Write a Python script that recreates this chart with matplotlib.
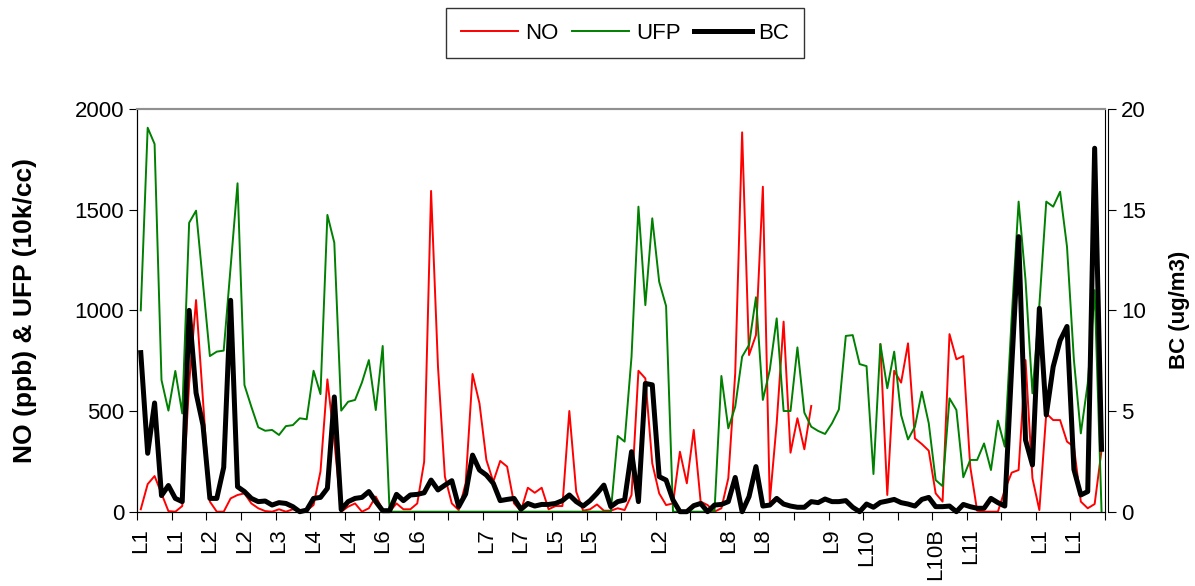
import numpy as np
import matplotlib
matplotlib.use("Agg")
import matplotlib.pyplot as plt

plt.rcParams['font.family'] = ['Liberation Sans', 'DejaVu Sans']

# category labels, one every 5 samples
site_labels = ["L1", "L1", "L2", "L2", "L3", "L4", "L4", "L6", "L6", "",
               "L7", "L7", "L5", "L5", "", "L2", "", "L8", "L8", "",
               "L9", "L10", "", "L10B", "L11", "", "L1", "L1"]

nan = np.nan
no_ppb = [12, 137, 177, 90, 3, 0, 28, 637, 1051, 555,
          50, 0, 0, 66, 83, 91, 41, 17, 3, 0,
          12, 0, 12, 0, 5, 33, 200, 657, 350, 0,
          25, 41, 0, 17, 75, 10, 0, 41, 12, 12,
          41, 248, 1593, 720, 174, 41, 8, 141, 684, 538,
          257, 149, 252, 224, 41, 5, 119, 94, 119, 12,
          28, 28, 500, 99, 5, 12, 36, 5, 5, 17,
          8, 83, 700, 662, 240, 91, 33, 41, 298, 141,
          406, 50, 33, 0, 17, 166, 687, 1884, 778, 877,
          1614, 50, 439, 944, 293, 464, 310, 525, nan, nan,
          nan, nan, nan, nan, nan, nan, nan, 830, 83, 700,
          641, 836, 364, 336, 303, 91, 50, 882, 757, 773,
          224, 5, 0, 0, 0, 108, 194, 207, 753, 166,
          8, 488, 455, 455, 348, 323, 50, 17, 38, 306]

ufp = [1000, 1907, 1826, 654, 502, 699, 488, 1435, 1495, 1134,
       773, 795, 800, 1217, 1631, 629, 521, 419, 402, 406,
       381, 425, 430, 464, 459, 700, 584, 1474, 1336, 502,
       546, 555, 642, 753, 505, 823, 0, 0, 0, 0,
       0, 0, 0, 0, 0, 0, 0, 0, 0, 0,
       0, 0, 0, 0, 0, 0, 0, 0, 0, 0,
       0, 0, 0, 0, 0, 0, 0, 0, 0, 376,
       348, 770, 1515, 1026, 1457, 1142, 1021, 0, 0, 0,
       0, 0, 0, 0, 674, 414, 521, 770, 828, 1065,
       555, 704, 960, 500, 500, 816, 492, 422, 401, 386,
       439, 508, 873, 877, 733, 723, 187, 833, 613, 795,
       480, 359, 422, 596, 439, 157, 127, 563, 505, 171,
       257, 257, 339, 207, 452, 323, 968, 1540, 1150, 588,
       1026, 1540, 1515, 1589, 1316, 753, 389, 637, 1100, 0]

bc = [7.9, 2.9, 5.4, 0.8, 1.3, 0.66, 0.5, 10.0, 5.9, 4.3,
      0.66, 0.66, 2.2, 10.5, 1.24, 1.0, 0.66, 0.5, 0.53, 0.33,
      0.45, 0.41, 0.25, 0, 0.08, 0.66, 0.71, 1.16, 5.7, 0.1,
      0.5, 0.66, 0.71, 1.0, 0.5, 0.05, 0.05, 0.86, 0.55, 0.83,
      0.86, 0.94, 1.57, 1.08, 1.32, 1.54, 0.25, 0.88, 2.81, 2.07,
      1.82, 1.41, 0.55, 0.61, 0.66, 0.12, 0.41, 0.28, 0.36, 0.36,
      0.41, 0.55, 0.83, 0.5, 0.28, 0.55, 0.91, 1.32, 0.25, 0.5,
      0.58, 2.98, 0.5, 6.37, 6.3, 1.74, 1.57, 0.58, 0, 0,
      0.3, 0.41, 0, 0.33, 0.36, 0.5, 1.7, 0, 0.75, 2.24,
      0.28, 0.33, 0.66, 0.38, 0.28, 0.22, 0.22, 0.5, 0.45, 0.63,
      0.5, 0.5, 0.55, 0.22, 0, 0.38, 0.22, 0.46, 0.53, 0.61,
      0.45, 0.38, 0.28, 0.61, 0.71, 0.25, 0.25, 0.28, 0, 0.36,
      0.25, 0.17, 0.17, 0.66, 0.45, 0.28, 7.2, 13.66, 3.56, 2.32,
      10.1, 4.8, 7.2, 8.5, 9.2, 2.1, 0.83, 1.0, 18.05, 3.1]

x = np.arange(len(ufp))

fig = plt.figure(figsize=(11.95, 5.86), dpi=100)
ax = fig.add_axes([0.1149, 0.1268, 0.8098, 0.6872])
ax2 = ax.twinx()

l_no, = ax.plot(x, no_ppb, color='#ff0000', lw=1.4, label='NO', clip_on=False, zorder=3)
l_ufp, = ax.plot(x, ufp, color='#008000', lw=1.4, label='UFP', clip_on=False, zorder=3)
l_bc, = ax2.plot(x, bc, color='black', lw=3.6, label='BC', clip_on=False, zorder=3)

ax.set_xlim(-0.5, len(ufp) - 0.5)
ax.set_ylim(0, 2000)
ax2.set_ylim(0, 20)
ax.set_yticks([0, 500, 1000, 1500, 2000])
ax2.set_yticks([0, 5, 10, 15, 20])

# tick marks between groups, labels on every fifth sample
ax.set_xticks(np.arange(-0.5, len(ufp), 5))
ax.set_xticklabels([])
ax.set_xticks(np.arange(0, len(ufp), 5), minor=True)
ax.set_xticklabels(site_labels, minor=True, rotation=90, fontsize=16)
ax.tick_params(axis='x', which='minor', length=0, pad=12)
ax.tick_params(axis='x', which='major', length=6, direction='out', color='black')
ax.tick_params(axis='y', labelsize=16, length=6, direction='out')
ax2.tick_params(axis='y', labelsize=16, length=6, direction='out')

for a in (ax, ax2):
    a.spines['top'].set_color('#909090')
    a.spines['top'].set_linewidth(1.5)
ax2.spines['right'].set_position(('outward', 2))

ax.set_ylabel('NO (ppb) & UFP (10k/cc)', fontsize=19, fontweight='bold')
ax.yaxis.set_label_coords(-0.104, 0.5)
ax2.set_ylabel('BC (ug/m3)', fontsize=16, fontweight='bold')
ax2.yaxis.set_label_coords(1.066, 0.5)

leg = fig.legend(handles=[l_no, l_ufp, l_bc], loc='upper center',
                 bbox_to_anchor=(0.523, 0.986), ncol=3, fontsize=16,
                 frameon=True, fancybox=False, edgecolor='black',
                 handlelength=2.6, handletextpad=0.3, columnspacing=0.6,
                 borderpad=0.65, borderaxespad=0)
leg.get_frame().set_linewidth(1.0)

fig.savefig('out.png', dpi=100)
